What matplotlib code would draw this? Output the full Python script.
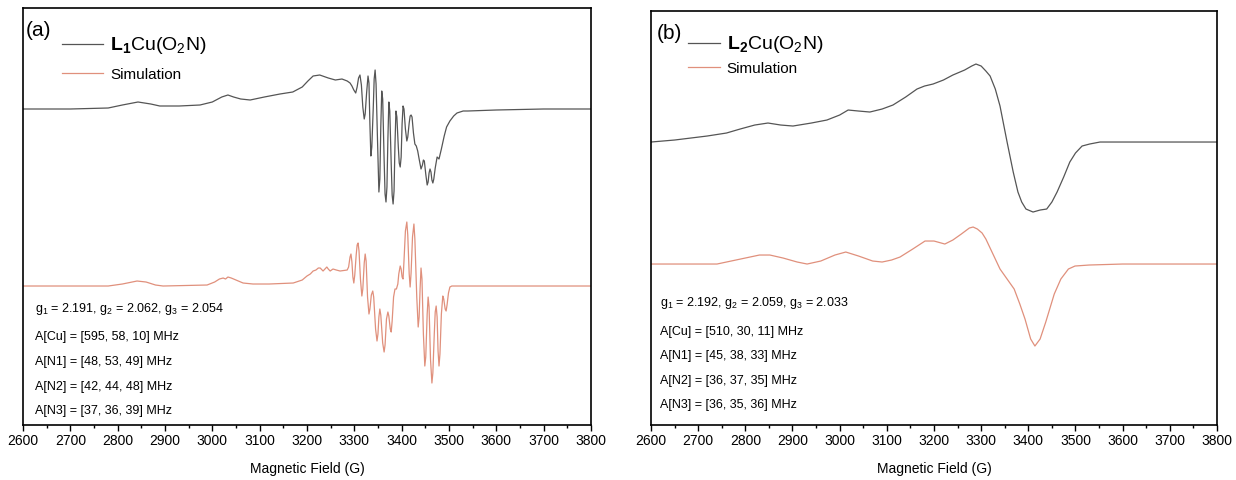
import numpy as np
import matplotlib.pyplot as plt
from matplotlib.ticker import MultipleLocator

plt.rcParams['font.family'] = ['Liberation Sans', 'DejaVu Sans']
plt.rcParams['mathtext.fontset'] = 'custom'
plt.rcParams['mathtext.rm'] = 'Liberation Sans'
plt.rcParams['mathtext.it'] = 'Liberation Sans'
plt.rcParams['mathtext.bf'] = 'Liberation Sans:bold'

# ---- panel (a): L1Cu(O2N) ----
field_a_exp = [2600, 2700, 2780, 2810, 2843, 2870, 2889, 2930, 2974, 3000, 3020, 3033, 3045, 3060,
               3080, 3110, 3143, 3170, 3190, 3202, 3213, 3227, 3245, 3260, 3274,
               3285, 3291, 3295, 3299, 3303, 3306, 3309, 3312, 3315, 3318, 3321, 3323, 3326, 3329,
               3331, 3333, 3335, 3337, 3340, 3342, 3344, 3346, 3349, 3352, 3354, 3356, 3358, 3360,
               3363, 3365, 3367, 3369, 3371, 3373, 3375, 3378, 3380, 3382, 3384, 3386, 3388, 3390,
               3393, 3395, 3397, 3399, 3401, 3403, 3405, 3408, 3411, 3413, 3416, 3418, 3420, 3422,
               3425, 3428, 3431, 3434, 3437, 3441, 3444, 3446, 3448, 3451, 3454, 3456, 3458, 3460,
               3462, 3464, 3466, 3468, 3471, 3475, 3479, 3484, 3490, 3495, 3502, 3510, 3517, 3530,
               3540, 3600, 3700, 3800]
int_a_exp = [0, 0, 1, 4, 7, 5, 3, 3, 4, 7, 12, 14, 12, 10,
             9, 12, 15, 17, 22, 28, 33, 34, 31, 29, 30,
             28, 26, 23, 19, 16, 22, 31, 34, 24, 2, -10, -5, 16, 33,
             26, -15, -47, -38, 0, 30, 39, 25, -30, -83, -70, -18, 18, 10,
             -50, -85, -93, -78, -30, 7, -2, -55, -86, -95, -82, -35, -2, -8,
             -38, -54, -58, -48, -15, 3, 0, -20, -32, -28, -14, -7, -6, -8,
             -24, -35, -37, -42, -50, -60, -56, -51, -52, -65, -76, -73, -64, -60,
             -63, -71, -74, -70, -59, -48, -50, -40, -27, -18, -12, -7, -4, -2,
             -2, -1, 0, 0]

field_a_sim = [2600, 2780, 2810, 2841, 2860, 2880, 2896, 2989, 3005, 3015, 3023, 3028, 3033, 3040,
               3050, 3065, 3086, 3120, 3171, 3190, 3200, 3207, 3213, 3219, 3224, 3228, 3234, 3238,
               3242, 3245, 3249, 3255, 3262, 3270,
               3285, 3288, 3291, 3293, 3295, 3297, 3299, 3301, 3304, 3306, 3308, 3310, 3313, 3316,
               3318, 3321, 3323, 3325, 3328, 3331, 3333, 3336, 3339, 3341, 3345, 3348, 3350, 3352,
               3354, 3356, 3360, 3363, 3365, 3368, 3371, 3373, 3376, 3378, 3380, 3383, 3386, 3389,
               3392, 3394, 3397, 3399, 3401, 3403, 3405, 3408, 3411, 3413, 3416, 3418, 3420, 3423,
               3426, 3428, 3432, 3435, 3437, 3439, 3441, 3443, 3446, 3449, 3451, 3454, 3456, 3458,
               3461, 3464, 3466, 3469, 3471, 3473, 3475, 3477, 3479, 3481, 3484, 3487, 3489, 3492,
               3494, 3496, 3499, 3502, 3506, 3800]
int_a_sim = [0, 0, 2, 5, 4, 1, 0, 1, 4, 7, 8, 7, 9, 8,
             6, 3, 2, 2, 3, 6, 10, 12, 15, 16, 18, 18, 15, 17,
             19, 17, 15, 17, 16, 15,
             16, 19, 29, 32, 24, 9, 3, 11, 31, 41, 43, 35, 7, -10,
             -3, 23, 32, 25, -11, -28, -23, -9, -5, -11, -43, -55, -48, -31,
             -23, -29, -57, -66, -59, -33, -26, -30, -43, -46, -35, -11, -3, -3,
             2, 12, 20, 17, 9, 7, 25, 55, 64, 51, 12, -1, 13, 49,
             62, 47, -11, -41, -31, -3, 18, 7, -48, -80, -71, -28, -11, -21,
             -73, -97, -87, -48, -26, -20, -31, -65, -80, -68, -28, -10, -13, -23,
             -25, -19, -7, -1, 0, 0]

# ---- panel (b): L2Cu(O2N) ----
field_b_exp = [2600, 2650, 2719, 2760, 2789, 2820, 2848, 2875, 2901, 2940, 2973, 3000, 3018, 3040,
               3064, 3090, 3113, 3140, 3164, 3180, 3198, 3220, 3240, 3265, 3280, 3289, 3300, 3310,
               3319, 3330, 3340, 3355, 3368, 3378, 3386, 3395, 3410, 3425, 3439, 3450, 3461, 3475,
               3488, 3500, 3514, 3530, 3552, 3622, 3800]
int_b_exp = [0, 2, 6, 9, 13, 17, 19, 17, 16, 19, 22, 27, 32, 31,
             30, 33, 37, 45, 53, 56, 58, 62, 67, 72, 76, 78, 76, 71,
             66, 53, 36, 0, -30, -50, -60, -67, -70, -68, -67, -60, -50, -35,
             -20, -11, -4, -2, 0, 0, 0]

field_b_sim = [2600, 2740, 2770, 2800, 2830, 2852, 2880, 2910, 2931, 2960, 2990, 3013, 3040, 3070,
               3090, 3110, 3128, 3155, 3181, 3200, 3223, 3240, 3258, 3275, 3283, 3292, 3302, 3310,
               3325, 3340, 3355, 3370, 3382, 3393, 3405, 3414, 3425, 3437, 3455, 3469, 3485, 3499,
               3529, 3600, 3800]
int_b_sim = [0, 0, 3, 6, 9, 9, 6, 2, 0, 3, 9, 12, 8, 3,
             2, 4, 7, 15, 23, 23, 20, 24, 30, 36, 37, 35, 31, 25,
             10, -5, -15, -25, -40, -55, -75, -82, -75, -58, -30, -15, -5, -2,
             -1, 0, 0]

params_a = ["g$_1$ = 2.191, g$_2$ = 2.062, g$_3$ = 2.054",
            "A[Cu] = [595, 58, 10] MHz",
            "A[N1] = [48, 53, 49] MHz",
            "A[N2] = [42, 44, 48] MHz",
            "A[N3] = [37, 36, 39] MHz"]
params_b = ["g$_1$ = 2.192, g$_2$ = 2.059, g$_3$ = 2.033",
            "A[Cu] = [510, 30, 11] MHz",
            "A[N1] = [45, 38, 33] MHz",
            "A[N2] = [36, 37, 35] MHz",
            "A[N3] = [36, 35, 36] MHz"]

exp_color = '#555555'
sim_color = '#e0907c'

fig = plt.figure(figsize=(12.36, 4.81), dpi=100)
ax_a = fig.add_axes([0.0186, 0.1143, 0.4595, 0.8670])
ax_b = fig.add_axes([0.5267, 0.1143, 0.4579, 0.8607])

panels = [
    dict(ax=ax_a, tag="(a)", name=r"$\mathbf{L_1}$Cu(O$_2$N)", fe=field_a_exp, ie=int_a_exp,
         fs=field_a_sim, isim=int_a_sim, params=params_a, off_e=316, off_s=139, ytop=417,
         ypos=[0.021, 0.281, 0.213, 0.153, 0.094, 0.036], xtag=0.005, tagy=0.972,
         leg=(0.069, 0.937), hl=2.7, ls=0.8),
    dict(ax=ax_b, tag="(b)", name=r"$\mathbf{L_2}$Cu(O$_2$N)", fe=field_b_exp, ie=int_b_exp,
         fs=field_b_sim, isim=int_b_sim, params=params_b, off_e=283, off_s=161, ytop=414,
         ypos=[0.016, 0.297, 0.227, 0.169, 0.109, 0.051], xtag=0.010, tagy=0.972,
         leg=(0.065, 0.946), hl=2.1, ls=0.45),
]

for p in panels:
    ax = p['ax']
    ax.plot(p['fe'], np.array(p['ie']) + p['off_e'], color=exp_color, lw=0.9, label=p['name'])
    ax.plot(p['fs'], np.array(p['isim']) + p['off_s'], color=sim_color, lw=0.9, label='Simulation')
    ax.set_xlim(2600, 3800)
    ax.set_ylim(0, p['ytop'])
    ax.set_yticks([])
    ax.xaxis.set_major_locator(MultipleLocator(100))
    ax.xaxis.set_minor_locator(MultipleLocator(50))
    ax.tick_params(axis='x', which='major', direction='out', length=4, width=1, labelsize=10, pad=2)
    ax.tick_params(axis='x', which='minor', direction='out', length=2.5, width=1)
    for s in ax.spines.values():
        s.set_linewidth(1.2)
    ax.set_xlabel('Magnetic Field (G)', fontsize=10, labelpad=9.5)
    ax.text(p['xtag'], p['tagy'], p['tag'], transform=ax.transAxes, fontsize=15, va='top', ha='left')
    leg = ax.legend(loc='upper left', bbox_to_anchor=p['leg'], frameon=False,
                    handlelength=p['hl'], handletextpad=0.45, labelspacing=p['ls'],
                    borderpad=0, borderaxespad=0, fontsize=11)
    leg.get_texts()[0].set_fontsize(14)
    for line in leg.get_lines():
        line.set_linewidth(0.9)
    for txt, y in zip(p['params'], p['ypos'][1:]):
        ax.text(p['ypos'][0], y, txt, transform=ax.transAxes, fontsize=9, va='center', ha='left')

fig.savefig('out.png', dpi=100)
